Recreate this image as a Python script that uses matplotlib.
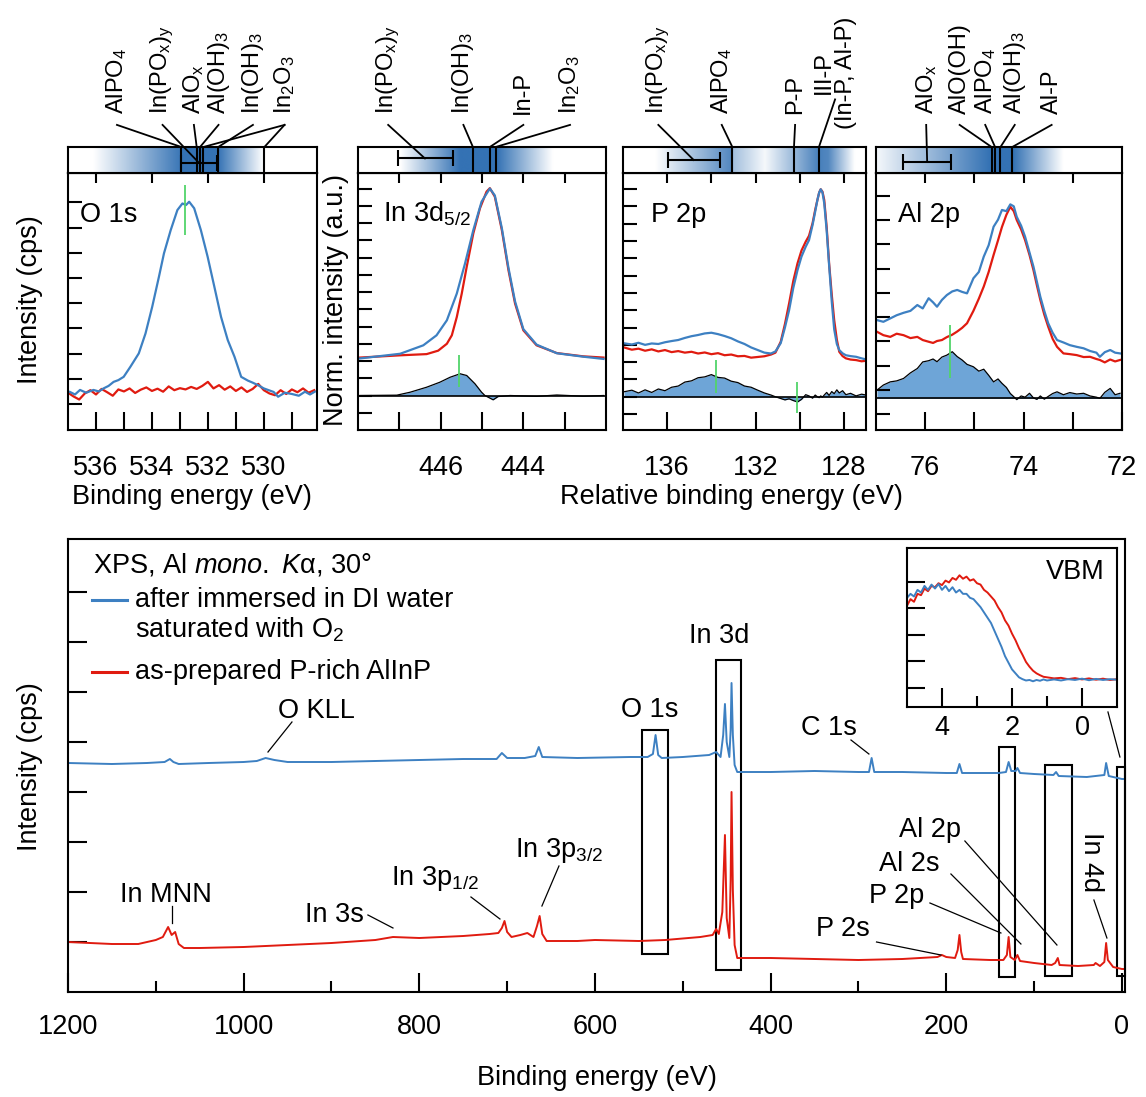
import numpy as np
import matplotlib.pyplot as plt
from matplotlib.colors import LinearSegmentedColormap
from matplotlib.patches import Rectangle
from matplotlib.ticker import MultipleLocator
from matplotlib.transforms import blended_transform_factory

plt.rcParams['font.family'] = ['Liberation Sans', 'DejaVu Sans']
plt.rcParams['mathtext.fontset'] = 'custom'
plt.rcParams['mathtext.rm'] = 'Liberation Sans'
plt.rcParams['mathtext.it'] = 'Liberation Sans:italic'
plt.rcParams['mathtext.bf'] = 'Liberation Sans:bold'
plt.rcParams['font.size'] = 19.5
plt.rcParams['axes.linewidth'] = 1.5

BLUE = '#3d80c2'
RED = '#e01b10'
FILL = '#6ea5d7'
GREEN = '#52d46a'
SHADE = '#3472b4'

# ---------------- survey spectra ----------------
survey_blue_e = [1200, 1150, 1110, 1090, 1084, 1080, 1074, 1040, 1000, 985, 975, 965, 950, 900,
                 850, 800, 750, 712, 706, 700, 680, 668, 664, 660, 620, 560, 540, 534, 531, 528,
                 524, 500, 470, 462, 457, 454, 452, 450, 447, 445.5, 444.5, 443, 441, 438, 400,
                 350, 300, 288, 285, 282, 250, 200, 188, 185, 182, 140, 132, 129, 126, 121, 119,
                 116, 100, 78, 75, 72, 40, 20, 18, 15, 5, 0, -3.5]
survey_blue_i = [4.58, 4.56, 4.58, 4.60, 4.66, 4.60, 4.56, 4.58, 4.60, 4.62, 4.68, 4.64, 4.60, 4.60,
                 4.62, 4.64, 4.66, 4.66, 4.78, 4.68, 4.68, 4.72, 4.90, 4.70, 4.68, 4.70, 4.70, 4.76,
                 5.14, 4.74, 4.68, 4.70, 4.74, 4.80, 4.70, 5.14, 5.76, 5.00, 4.70, 5.24, 6.18, 5.14,
                 4.54, 4.40, 4.40, 4.42, 4.40, 4.40, 4.68, 4.40, 4.40, 4.38, 4.38, 4.56, 4.38, 4.38,
                 4.40, 4.60, 4.42, 4.42, 4.48, 4.38, 4.36, 4.34, 4.40, 4.32, 4.30, 4.34, 4.58, 4.32,
                 4.28, 4.26, 4.26]

survey_red_e = [1200, 1150, 1120, 1100, 1092, 1086, 1082, 1078, 1074, 1068, 1050, 1000, 950, 900,
                850, 830, 800, 750, 720, 710, 706, 703, 700, 695, 685, 677, 670, 666, 663, 660,
                655, 620, 600, 550, 520, 480, 466, 462, 459, 455, 452, 450, 447, 445.5, 444.5,
                443, 441, 438, 400, 350, 300, 250, 210, 205, 200, 190, 187, 185, 183, 181, 150,
                135, 131, 129, 127, 122, 119, 116, 100, 80, 76, 73, 71, 50, 32, 30, 25, 20, 18,
                16, 10, 0, -3.5]
survey_red_i = [1.00, 0.96, 0.96, 1.04, 1.10, 1.30, 1.14, 1.20, 0.96, 0.88, 0.88, 0.90, 0.94, 0.98,
                1.04, 1.10, 1.08, 1.12, 1.16, 1.18, 1.28, 1.42, 1.20, 1.10, 1.14, 1.18, 1.10, 1.32,
                1.52, 1.16, 1.02, 1.02, 1.04, 1.02, 1.04, 1.10, 1.14, 1.26, 1.16, 1.60, 3.14, 1.48,
                1.08, 2.24, 4.00, 2.04, 0.94, 0.68, 0.68, 0.66, 0.64, 0.66, 0.70, 0.74, 0.70, 0.68,
                0.84, 1.14, 0.80, 0.66, 0.64, 0.64, 0.74, 1.10, 0.70, 0.64, 0.74, 0.62, 0.58, 0.54,
                0.58, 0.68, 0.54, 0.52, 0.54, 0.58, 0.52, 0.60, 0.98, 0.64, 0.50, 0.46, 0.46]

# boxed detail regions (eV from, eV to, intensity bottom, intensity top)
detail_boxes = [(546.5, 516.9, 0.76, 5.24), (462.2, 433.8, 0.44, 6.64),
                (140.0, 121.8, 0.30, 4.90), (87.7, 56.9, 0.32, 4.54), (5.7, -3.5, 0.32, 4.50)]

# ---------------- valence band ----------------
vbm_e = [5.0, 4.9, 4.8, 4.7, 4.6, 4.5, 4.4, 4.3, 4.2, 4.1, 4.0, 3.9, 3.8, 3.7, 3.6, 3.5, 3.4,
         3.3, 3.2, 3.1, 3.0, 2.9, 2.8, 2.7, 2.6, 2.5, 2.4, 2.3, 2.2, 2.1, 2.0, 1.9, 1.8, 1.7,
         1.6, 1.5, 1.4, 1.3, 1.2, 1.1, 1.0, 0.8, 0.6, 0.4, 0.2, 0.0, -0.2, -0.4, -0.6, -0.8, -1.0]
vbm_red = [3.10, 3.35, 3.25, 3.55, 3.50, 3.75, 3.65, 3.85, 3.80, 3.95, 3.88, 4.05, 3.98, 4.15,
           4.08, 4.25, 4.12, 4.20, 4.05, 4.10, 3.95, 3.90, 3.70, 3.60, 3.45, 3.30, 3.05, 2.85,
           2.55, 2.35, 2.05, 1.80, 1.50, 1.25, 0.98, 0.80, 0.65, 0.55, 0.48, 0.42, 0.40, 0.36,
           0.38, 0.33, 0.37, 0.32, 0.36, 0.31, 0.35, 0.30, 0.33]
vbm_blue = [3.40, 3.55, 3.45, 3.70, 3.60, 3.85, 3.70, 3.90, 3.75, 3.92, 3.70, 3.85, 3.65, 3.80,
            3.60, 3.70, 3.55, 3.55, 3.40, 3.35, 3.20, 3.05, 2.85, 2.65, 2.45, 2.15, 1.85, 1.55,
            1.20, 0.95, 0.70, 0.55, 0.40, 0.33, 0.28, 0.30, 0.25, 0.30, 0.27, 0.32, 0.28, 0.32,
            0.28, 0.33, 0.30, 0.35, 0.29, 0.34, 0.30, 0.33, 0.31]

# ---------------- O 1s ----------------
o1s_blue_e = [536.93, 536.75, 536.57, 536.35, 536.09, 535.9, 535.73, 535.55, 535.37, 535.2, 535.01,
              534.77, 534.47, 534.23, 533.99, 533.75, 533.57, 533.33, 533.09, 532.91, 532.78,
              532.67, 532.49, 532.25, 532.01, 531.77, 531.53, 531.29, 531.05, 530.81, 530.57,
              530.4, 530.21, 530.0, 529.85, 529.65, 529.49, 529.25, 529.0, 528.75, 528.53,
              528.35, 528.18]
o1s_blue_i = [0.48, 0.38, 0.56, 0.45, 0.56, 0.50, 0.62, 0.72, 0.88, 0.95, 1.08, 1.48, 2.01, 2.80,
              3.86, 5.05, 5.98, 6.90, 7.70, 7.96, 7.90, 8.03, 7.77, 6.90, 5.85, 4.66, 3.46, 2.54,
              1.88, 1.08, 0.93, 0.85, 0.75, 0.62, 0.56, 0.48, 0.29, 0.45, 0.40, 0.33, 0.49, 0.38,
              0.49]
o1s_red_e = [537.0, 536.8, 536.6, 536.4, 536.2, 536.0, 535.8, 535.6, 535.4, 535.2, 535.0, 534.8,
             534.6, 534.4, 534.2, 534.0, 533.8, 533.6, 533.4, 533.2, 533.0, 532.8, 532.6, 532.4,
             532.2, 532.0, 531.8, 531.6, 531.4, 531.2, 531.0, 530.8, 530.6, 530.4, 530.2, 530.0,
             529.8, 529.6, 529.4, 529.2, 529.0, 528.8, 528.6, 528.4, 528.2]
o1s_red_i = [0.45, 0.30, 0.18, 0.42, 0.55, 0.38, 0.60, 0.47, 0.33, 0.58, 0.50, 0.62, 0.44, 0.57,
             0.66, 0.52, 0.61, 0.49, 0.70, 0.55, 0.63, 0.58, 0.68, 0.60, 0.72, 0.88, 0.62, 0.75,
             0.57, 0.70, 0.52, 0.66, 0.48, 0.60, 0.80, 0.55, 0.42, 0.35, 0.55, 0.40, 0.58, 0.47,
             0.62, 0.45, 0.55]

# ---------------- In 3d5/2 ----------------
in3d_red_e = [447.95, 446.98, 446.34, 446.06, 445.85, 445.73, 445.61, 445.49, 445.37, 445.21,
              445.05, 444.89, 444.81, 444.69, 444.52, 444.36, 444.20, 444.00, 443.68, 443.19,
              442.55, 442.06]
in3d_red_i = [2.20, 2.33, 2.40, 2.60, 3.00, 3.49, 4.55, 5.91, 7.46, 9.40, 10.85, 11.82, 12.02,
              11.53, 9.59, 7.27, 5.33, 3.78, 2.91, 2.46, 2.27, 2.20]
in3d_blue_e = [447.95, 446.98, 446.42, 446.10, 445.85, 445.61, 445.41, 445.21, 445.01, 444.81,
               444.69, 444.52, 444.36, 444.20, 444.00, 443.68, 443.19, 442.55, 442.06]
in3d_blue_i = [2.15, 2.42, 2.91, 3.49, 4.36, 5.91, 7.66, 9.59, 11.24, 12.00, 11.60, 9.70, 7.40,
               5.45, 3.85, 2.95, 2.45, 2.25, 2.12]
in3d_diff_e = [447.95, 447.06, 446.74, 446.34, 446.02, 445.77, 445.53, 445.37, 445.17, 445.01,
               444.93, 444.73, 444.61, 444.32, 443.68, 443.19, 442.55, 442.06]
in3d_diff_i = [0.0, 0.02, 0.19, 0.48, 0.77, 1.06, 1.26, 1.16, 0.68, 0.19, 0.0, -0.25, -0.06,
               0.0, -0.05, 0.03, -0.04, 0.0]

# ---------------- P 2p ----------------
p2p_e = [137.95, 137.6, 137.3, 137.0, 136.7, 136.4, 136.1, 135.8, 135.5, 135.2, 134.9, 134.6,
         134.3, 134.0, 133.7, 133.4, 133.1, 132.8, 132.5, 132.2, 131.9, 131.6, 131.3, 131.1,
         130.86, 130.67, 130.48, 130.29, 130.10, 129.92, 129.73, 129.58, 129.42, 129.30, 129.20,
         129.12, 129.05, 128.97, 128.89, 128.78, 128.67, 128.55, 128.44, 128.32, 128.21, 128.06,
         127.91, 127.7, 127.45, 127.2, 127.0]
p2p_red = [2.85, 2.72, 2.78, 2.66, 2.74, 2.62, 2.70, 2.58, 2.64, 2.55, 2.60, 2.50, 2.56, 2.46,
           2.52, 2.40, 2.44, 2.34, 2.36, 2.26, 2.30, 2.34, 2.44, 2.55, 3.18, 4.20, 5.40, 6.70,
           7.71, 8.45, 8.96, 9.30, 10.02, 10.80, 11.37, 11.80, 11.99, 11.85, 11.37, 9.80, 7.71,
           5.90, 4.43, 3.30, 2.60, 2.35, 2.22, 2.15, 2.12, 2.05, 2.08]
p2p_blue = [3.09, 3.02, 3.12, 3.00, 3.08, 3.05, 3.15, 3.22, 3.28, 3.40, 3.50, 3.57, 3.66, 3.70,
            3.62, 3.51, 3.38, 3.20, 3.05, 2.85, 2.70, 2.55, 2.50, 2.62, 3.10, 4.00, 5.01, 6.30,
            7.32, 8.10, 8.67, 9.05, 9.92, 10.70, 11.37, 11.80, 11.99, 11.80, 11.18, 9.60, 7.60,
            5.50, 3.90, 3.05, 2.70, 2.51, 2.40, 2.35, 2.31, 2.22, 2.16]
p2p_diff = [0.29, 0.38, 0.22, 0.40, 0.25, 0.45, 0.35, 0.55, 0.62, 0.85, 0.92, 1.10, 1.15, 1.28,
            1.12, 1.08, 0.90, 0.82, 0.62, 0.55, 0.38, 0.22, 0.10, 0.00, -0.10, -0.18, -0.12,
            -0.22, -0.30, -0.15, 0.12, 0.05, -0.08, 0.10, 0.00, -0.05, 0.05, -0.02, 0.10, 0.25,
            0.08, 0.30, 0.18, 0.40, 0.22, 0.35, 0.12, 0.20, 0.05, 0.15, 0.10]

# ---------------- Al 2p ----------------
al2p_e = [76.98, 76.85, 76.71, 76.58, 76.44, 76.30, 76.16, 76.05, 75.93, 75.84, 75.76, 75.66,
          75.56, 75.45, 75.35, 75.25, 75.15, 75.02, 74.91, 74.81, 74.71, 74.61, 74.52, 74.44,
          74.35, 74.27, 74.20, 74.14, 74.05, 73.97, 73.88, 73.80, 73.73, 73.66, 73.58, 73.50,
          73.41, 73.32, 73.19, 73.06, 72.92, 72.78, 72.65, 72.52, 72.45, 72.35, 72.24, 72.14,
          72.04]
al2p_blue = [3.22, 3.15, 3.29, 3.42, 3.52, 3.60, 3.84, 3.70, 4.12, 3.95, 3.77, 4.05, 4.25, 4.40,
             4.46, 4.38, 4.32, 4.94, 5.20, 5.83, 6.30, 7.06, 7.35, 7.75, 7.70, 7.98, 7.90, 7.47,
             7.10, 6.65, 6.00, 5.42, 4.80, 4.18, 3.60, 3.09, 2.70, 2.40, 2.30, 2.19, 2.12, 2.06,
             1.95, 1.88, 1.71, 1.90, 1.99, 1.88, 1.85]
al2p_red = [2.74, 2.60, 2.53, 2.66, 2.60, 2.48, 2.53, 2.40, 2.33, 2.28, 2.36, 2.40, 2.52, 2.62,
            2.75, 2.90, 3.09, 3.60, 4.10, 4.60, 5.20, 5.90, 6.50, 7.05, 7.55, 7.88, 7.70, 7.34,
            6.95, 6.51, 5.90, 5.28, 4.65, 4.05, 3.45, 2.95, 2.45, 2.12, 1.85, 1.82, 1.78, 1.70,
            1.71, 1.62, 1.58, 1.48, 1.60, 1.52, 1.58]
al2p_diff = [0.34, 0.55, 0.68, 0.72, 0.82, 1.05, 1.23, 1.50, 1.55, 1.62, 1.51, 1.70, 1.78, 1.92,
             1.72, 1.58, 1.40, 1.30, 1.12, 1.20, 0.95, 0.68, 0.80, 0.62, 0.45, 0.20, 0.07, -0.05,
             0.10, 0.05, 0.21, 0.02, -0.04, 0.10, -0.03, 0.08, 0.20, 0.27, 0.15, 0.24, 0.18, 0.21,
             0.10, 0.05, 0.00, 0.25, 0.41, 0.15, 0.21]

W, H = 1146, 1097
fig = plt.figure(figsize=(W / 100, H / 100), dpi=100)


def box(x0, y0, x1, y1):
    return [x0 / W, 1 - y1 / H, (x1 - x0) / W, (y1 - y0) / H]


shade_cmap = LinearSegmentedColormap.from_list('shade', ['white', SHADE])

panels = [
    dict(px=(68, 317), xlim=(537, 528.1), ylim=(-1.03, 9.17), yticks=list(range(0, 9)),
         xticks=[536, 535, 534, 533, 532, 531, 530, 529],
         xlabels=['536', '', '534', '', '532', '', '530', ''], top=[536, 534, 532, 530],
         title='O 1s', title_x=0.048,
         blue=(o1s_blue_e, o1s_blue_i), red=(o1s_red_e, o1s_red_i), diff=None,
         marks=[(532.82, 6.71, 8.69)],
         shade=([536.1, 532.86, 531.64, 530.0], [0, 1, 1, 0]),
         states=[532.95, 532.40, 532.28, 532.16, 531.63, 529.98],
         span=(532.95, 531.66), span_y=0.37,
         labels=[(r'AlPO$_4$', 535.25, [(532.95, 1.0)]),
                 (r'In(PO$_\mathrm{x}$)$_\mathrm{y}$', 533.62, [(532.3, 0.37)]),
                 (r'AlO$_\mathrm{x}$', 532.50, [(532.40, 1.0)]),
                 (r'Al(OH)$_3$', 531.62, [(532.28, 1.0)]),
                 (r'In(OH)$_3$', 530.39, [(531.63, 1.0)]),
                 (r'In$_2$O$_3$', 529.26, [(529.98, 1.0), (532.16, 1.0)])]),
    dict(px=(358, 606), xlim=(448, 442), ylim=(-2.0, 12.9), yticks=list(range(-1, 13)),
         xticks=[447, 446, 445, 444, 443], xlabels=['', '446', '', '444', ''],
         top=[447, 446, 445, 444, 443],
         title=r'In 3d$_\mathrm{5/2}$', title_x=0.10,
         blue=(in3d_blue_e, in3d_blue_i), red=(in3d_red_e, in3d_red_i),
         diff=(in3d_diff_e, in3d_diff_i), marks=[(445.55, 0.48, 2.33)],
         shade=([446.98, 445.53, 444.64, 443.28], [0, 1, 1, 0]),
         states=[445.22, 444.81, 444.67], span=(447.04, 445.71), span_y=0.56,
         labels=[(r'In(PO$_\mathrm{x}$)$_\mathrm{y}$', 447.27, [(446.38, 0.56)]),
                 (r'In(OH)$_3$', 445.45, [(445.22, 1.0)]),
                 ('In-P', 444.0, [(444.81, 1.0)]),
                 (r'In$_2$O$_3$', 442.87, [(444.67, 1.0)])]),
    dict(px=(623, 866), xlim=(138, 127), ylim=(-1.92, 12.93), yticks=list(range(-1, 13)),
         xticks=[136, 134, 132, 130, 128], xlabels=['136', '', '132', '', '128'],
         top=[136, 134, 132, 130, 128],
         title='P 2p', title_x=0.115,
         blue=(p2p_e, p2p_blue), red=(p2p_e, p2p_red), diff=(p2p_e, p2p_diff),
         marks=[(133.79, 0.23, 2.12), (130.14, -0.96, 0.87)],
         shade=([136.55, 133.08, 133.0, 131.57, 130.26, 129.13, 128.7, 127.5],
                [0, 0.85, 0.45, 0.05, 0.5, 0.9, 0.85, 0]),
         states=[133.05, 130.26, 129.13], span=(135.98, 133.61), span_y=0.5,
         labels=[(r'In(PO$_\mathrm{x}$)$_\mathrm{y}$', 136.40, [(134.8, 0.5)]),
                 (r'AlPO$_4$', 133.53, [(133.05, 1.0)]),
                 ('P-P', 130.21, [(130.26, 1.0)]),
                 ('III-P\n(In-P, Al-P)', 128.40, [(129.13, 1.0)])]),
    dict(px=(876, 1122), xlim=(77, 72), ylim=(-1.30, 9.27),
         yticks=[-0.66, 0.34, 1.34, 2.34, 3.34, 4.34, 5.34, 6.34, 7.34, 8.34],
         xticks=[76, 75, 74, 73, 72], xlabels=['76', '', '74', '', '72'], top=[76, 75, 74, 73],
         title='Al 2p', title_x=0.089,
         blue=(al2p_e, al2p_blue), red=(al2p_e, al2p_red), diff=(al2p_e, al2p_diff),
         marks=[(75.49, 0.82, 3.02)],
         shade=([77.0, 74.68, 74.21, 73.19], [0.05, 1, 1, 0]),
         states=[74.65, 74.58, 74.47, 74.23], span=(76.45, 75.48), span_y=0.43,
         labels=[(r'AlO$_\mathrm{x}$', 75.98, [(75.96, 0.43)]),
                 ('AlO(OH)', 75.30, [(74.65, 1.0)]),
                 (r'AlPO$_4$', 74.78, [(74.58, 1.0)]),
                 (r'Al(OH)$_3$', 74.18, [(74.47, 1.0)]),
                 ('Al-P', 73.43, [(74.23, 1.0)])]),
]

for p in panels:
    x0, x1 = p['px']
    ax = fig.add_axes(box(x0, 173, x1, 430))
    bar = fig.add_axes(box(x0, 147, x1, 173))
    lo, hi = p['xlim']

    # chemical-state shading strip
    ge = np.array(p['shade'][0])
    gv = np.array(p['shade'][1])
    order = np.argsort(ge)
    grid = np.linspace(lo, hi, 800)
    strip = np.interp(grid, ge[order], gv[order])
    bar.imshow(strip[None, :], extent=[lo, hi, 0, 1], aspect='auto', cmap=shade_cmap,
               vmin=0, vmax=1, interpolation='bilinear')
    bar.set_xlim(lo, hi)
    bar.set_ylim(0, 1)
    bar.set_xticks([])
    bar.set_yticks([])
    bar.vlines(p['states'], 0, 1, color='black', lw=1.5)
    s0, s1 = p['span']
    bar.errorbar([(s0 + s1) / 2], [p['span_y']], xerr=[abs(s0 - s1) / 2], fmt='none',
                 ecolor='black', elinewidth=1.5, capsize=6, capthick=1.5)
    tr = blended_transform_factory(bar.transData, bar.transAxes)
    for text, xe, targets in p['labels']:
        if '\n' in text:
            bar.text(xe, 3.85, text, rotation=90, ha='center', va='center', fontsize=17,
                     multialignment='center', linespacing=1.0, transform=tr)
            y_start = 2.83
        else:
            bar.text(xe, 2.27, text, rotation=90, ha='center', va='bottom', fontsize=17,
                     transform=tr)
            y_start = 1.85
        for te, ty in targets:
            bar.plot([xe, te], [y_start, ty], color='black', lw=1.3, transform=tr,
                     clip_on=False)

    # spectra
    if p['diff'] is not None:
        de, dv = p['diff']
        ax.fill_between(de, 0, dv, color=FILL, lw=0)
        ax.plot(de, dv, color='black', lw=0.9)
        ax.axhline(0, color='black', lw=1.2)
    ax.plot(*p['red'], color=RED, lw=1.6)
    ax.plot(*p['blue'], color=BLUE, lw=1.6)
    for e, v0, v1 in p['marks']:
        ax.vlines(e, v0, v1, color=GREEN, lw=1.3)
    ax.set_xlim(lo, hi)
    ax.set_ylim(*p['ylim'])
    ax.set_xticks(p['xticks'])
    ax.set_xticklabels(p['xlabels'])
    ax.set_yticks(p['yticks'])
    ax.tick_params(axis='x', direction='in', length=13, width=1.5, pad=18)
    ax.tick_params(axis='y', direction='in', length=10, width=1.5, labelleft=False)
    top = ax.secondary_xaxis('top')
    top.set_xticks(p['top'])
    top.tick_params(direction='in', length=7, width=1.5, labeltop=False)
    ax.text(p['title_x'], 0.81, p['title'], transform=ax.transAxes, ha='left',
            va='baseline')

fig.text(30 / W, 1 - 300 / H, 'Intensity (cps)', rotation=90, ha='center', va='center')
fig.text(336 / W, 1 - 300 / H, 'Norm. intensity (a.u.)', rotation=90, ha='center', va='center')
fig.text(192 / W, 1 - 497 / H, 'Binding energy (eV)', ha='center', va='center')
fig.text(731 / W, 1 - 497 / H, 'Relative binding energy (eV)', ha='center', va='center')

# ---------------- survey panel ----------------
ax = fig.add_axes(box(68, 539, 1125, 992))
ax.plot(survey_blue_e, survey_blue_i, color=BLUE, lw=1.4)
ax.plot(survey_red_e, survey_red_i, color=RED, lw=1.4)
for e0, e1, v0, v1 in detail_boxes:
    ax.add_patch(Rectangle((e1, v0), e0 - e1, v1 - v0, fill=False, ec='black', lw=1.5,
                           clip_on=False))
ax.set_xlim(1200, -3.5)
ax.set_ylim(0, 9.06)
ax.set_xticks([1200, 1000, 800, 600, 400, 200, 0])
ax.xaxis.set_minor_locator(MultipleLocator(100))
ax.set_yticks(range(1, 9))
ax.tick_params(axis='x', which='major', direction='in', length=14, width=1.5, pad=16)
ax.tick_params(axis='x', which='minor', direction='in', length=8, width=1.5)
ax.tick_params(axis='y', direction='in', length=14, width=1.5, labelleft=False)

survey_notes = [
    ('In MNN', 1140.5, 1.80, [(1081.6, 1.72), (1081.6, 1.38)]),
    ('In 3s', 930.2, 1.40, [(858.5, 1.54), (830.0, 1.28)]),
    (r'In 3p$_\mathrm{1/2}$', 832.3, 2.14, [(741.2, 1.90), (708.2, 1.46)]),
    (r'In 3p$_\mathrm{3/2}$', 691.1, 2.70, [(641.0, 2.52), (660.4, 1.72)]),
    ('O KLL', 961.0, 5.48, [(945.0, 5.40), (972.3, 4.80)]),
    ('O 1s', 570.4, 5.50, None),
    ('In 3d', 493.0, 6.98, None),
    ('C 1s', 365.5, 5.14, [(308.5, 5.04), (288.1, 4.76)]),
    ('Al 2p', 253.9, 3.10, [(178.8, 3.02), (74.0, 0.94)]),
    ('Al 2s', 276.7, 2.42, [(194.7, 2.36), (115.0, 0.96)]),
    ('P 2p', 288.1, 1.78, [(218.6, 1.78), (137.8, 1.18)]),
    ('P 2s', 348.4, 1.12, [(279.4, 1.00), (206.1, 0.74)]),
]
for text, xe, yv, leader in survey_notes:
    ax.text(xe, yv, text, ha='left', va='baseline')
    if leader:
        (a, b), (c, d) = leader
        ax.plot([a, c], [b, d], color='black', lw=0.9)
ax.text(35.3, 2.6, 'In 4d', rotation=-90, ha='center', va='center')
ax.plot([31.9, 17.1], [1.84, 1.08], color='black', lw=0.9)
ax.plot([15.9, 2.3], [5.6, 4.7], color='black', lw=0.9)

# legend block
ax.text(0.0237, 0.943, r'XPS, Al $\mathit{mono.}$ $\mathit{K}$α, 30°', transform=ax.transAxes,
        ha='left', va='center')
ax.plot([0.0227, 0.0558], [0.865, 0.865], color=BLUE, lw=2.2, transform=ax.transAxes)
ax.text(0.0634, 0.865, 'after immersed in DI water', transform=ax.transAxes, ha='left',
        va='center')
ax.text(0.0634, 0.799, r'saturated with O$_2$', transform=ax.transAxes, ha='left',
        va='center')
ax.plot([0.0227, 0.0558], [0.706, 0.706], color=RED, lw=2.2, transform=ax.transAxes)
ax.text(0.0634, 0.706, 'as-prepared P-rich AlInP', transform=ax.transAxes, ha='left',
        va='center')

fig.text(30 / W, 1 - 767 / H, 'Intensity (cps)', rotation=90, ha='center', va='center')
fig.text(597 / W, 1 - 1078 / H, 'Binding energy (eV)', ha='center', va='center')

# ---------------- valence band inset ----------------
ins = fig.add_axes(box(907, 548, 1117, 707))
ins.plot(vbm_e, vbm_red, color=RED, lw=1.4)
ins.plot(vbm_e, vbm_blue, color=BLUE, lw=1.4)
ins.set_xlim(5, -1)
ins.set_ylim(-0.72, 5.28)
ins.set_xticks([4, 2, 0])
ins.set_xticks([3, 1], minor=True)
ins.set_yticks([0, 1, 2, 3, 4])
ins.tick_params(axis='x', which='major', direction='in', length=14, width=1.5, pad=6)
ins.tick_params(axis='x', which='minor', direction='in', length=8, width=1.5)
ins.tick_params(axis='y', direction='in', length=13, width=1.5, labelleft=False)
ins.text(0.943, 0.85, 'VBM', transform=ins.transAxes, ha='right', va='center')

fig.savefig('out.png', dpi=100)
